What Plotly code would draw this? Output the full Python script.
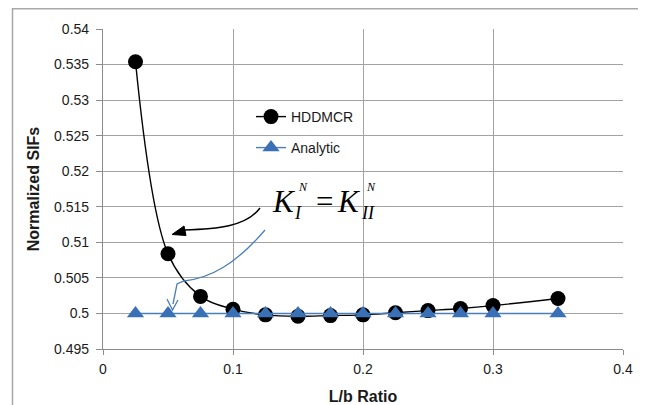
import plotly.graph_objects as go

# ---- data ----
lb_ratio = [0.025, 0.05, 0.075, 0.1, 0.125, 0.15, 0.175, 0.2, 0.225, 0.25, 0.275, 0.3, 0.35]
hddmcr = [0.5354, 0.5084, 0.5024, 0.5006, 0.4998, 0.4996, 0.4997, 0.4998, 0.5001, 0.5004, 0.5007, 0.5011, 0.5021]
analytic = [0.5, 0.5, 0.5, 0.5, 0.5, 0.5, 0.5, 0.5, 0.5, 0.5, 0.5, 0.5, 0.5]
y_tickvals = [0.495, 0.5, 0.505, 0.51, 0.515, 0.52, 0.525, 0.53, 0.535, 0.54]
y_ticktext = ["0.495", "0.5", "0.505", "0.51", "0.515", "0.52", "0.525", "0.53", "0.535", "0.54"]
x_tickvals = [0, 0.1, 0.2, 0.3, 0.4]
x_ticktext = ["0", "0.1", "0.2", "0.3", "0.4"]

# page body margin offsets the figure by 8px; size the figure to fill the window
OFF = 8
W, H = 646 - OFF, 405 - OFF
L, R, T, B = 103 - OFF, 23, 29 - OFF, 56
PW, PH = W - L - R, H - T - B


def P(px, py):
    """window pixel -> paper coords"""
    px -= OFF
    py -= OFF
    return (px - L) / PW, (H - B - py) / PH


def path(cmds):
    out = []
    for c in cmds:
        if isinstance(c, str):
            out.append(c)
        else:
            x, y = P(*c)
            out.append(f"{x:.5f},{y:.5f}")
    return " ".join(out)


FONT = "Liberation Sans, Arial, sans-serif"
SERIF = "Liberation Serif, Times New Roman, serif"
BLUE = "#3a70b5"

fig = go.Figure()
fig.add_trace(go.Scatter(
    x=lb_ratio, y=hddmcr, name="HDDMCR", mode="lines+markers",
    line=dict(color="black", width=1.4, shape="spline", smoothing=1.0),
    marker=dict(symbol="circle", size=15, color="black"),
    legend="legend",
))
fig.add_trace(go.Scatter(
    x=lb_ratio, y=analytic, name="Analytic", mode="lines+markers",
    line=dict(color="#4a7ebb", width=1.4),
    marker=dict(symbol="triangle-up", size=15, color=BLUE),
    legend="legend2",
))

shapes = []
# outer border
x0, y0 = P(12.5, 8.75)
x1, y1 = P(640.5, 412)
shapes.append(dict(type="rect", xref="paper", yref="paper", x0=x0, y0=y1, x1=x1, y1=y0,
                   line=dict(color="#a8a8a8", width=1.5), layer="below"))
# black curved arrow
shapes.append(dict(type="path", xref="paper", yref="paper",
                   path=path(["M", (260, 208), "C", (246, 227), (216, 229), (184, 230)]),
                   line=dict(color="black", width=1.5)))
shapes.append(dict(type="path", xref="paper", yref="paper",
                   path=path(["M", (172, 234.5), "L", (184, 226), "L", (186, 235.5), "Z"]),
                   line=dict(color="black", width=1), fillcolor="black"))
# blue curved arrow
shapes.append(dict(type="path", xref="paper", yref="paper",
                   path=path(["M", (265, 230), "C", (235, 265), (210, 278), (184, 281),
                              "L", (177, 284), "L", (173, 304)]),
                   line=dict(color="#4a7ebb", width=1.3)))
shapes.append(dict(type="path", xref="paper", yref="paper",
                   path=path(["M", (167, 299), "L", (172.5, 310), "L", (178, 300)]),
                   line=dict(color="#4a7ebb", width=1.3)))

annotations = []


def txt(s, px, py, size, italic=True):
    x, y = P(px, py)
    annotations.append(dict(
        text=(f"<i>{s}</i>" if italic else s), x=x, y=y, xref="paper", yref="paper",
        xanchor="center", yanchor="middle", showarrow=False,
        font=dict(family=SERIF, size=size, color="black")))


txt("K", 284, 201, 31)
txt("I", 298, 213, 18)
txt("N", 303, 187, 12)
txt("=", 324, 201, 31, italic=False)
txt("K", 349, 201, 31)
txt("II", 368, 213, 18)
txt("N", 371, 187, 12)

grid = "#a3a3a3"
fig.update_layout(
    width=W, height=H,
    margin=dict(l=L, r=R, t=T, b=B, autoexpand=False),
    paper_bgcolor="white", plot_bgcolor="white",
    font=dict(family=FONT, size=14, color="#1a1a1a"),
    showlegend=True,
    legend=dict(x=P(251, 0)[0], y=P(0, 117)[1], xanchor="left", yanchor="middle",
                bgcolor="rgba(0,0,0,0)", font=dict(size=14, family=FONT)),
    legend2=dict(x=P(251, 0)[0], y=P(0, 148)[1], xanchor="left", yanchor="middle",
                 bgcolor="rgba(0,0,0,0)", font=dict(size=14, family=FONT)),
    shapes=shapes,
    annotations=annotations,
    xaxis=dict(
        range=[0, 0.4], tickvals=x_tickvals, ticktext=x_ticktext, automargin=False,
        showgrid=True, gridcolor=grid, gridwidth=1.2,
        showline=True, linecolor="#8c8c8c", linewidth=1.2,
        ticks="outside", ticklen=5, tickcolor="#8c8c8c",
        zeroline=False, tickfont=dict(size=14), ticklabelstandoff=2,
        title=dict(text="<b>L/b Ratio</b>", font=dict(size=16), standoff=17),
    ),
    yaxis=dict(
        range=[0.495, 0.54], tickvals=y_tickvals, ticktext=y_ticktext, automargin=False,
        showgrid=True, gridcolor=grid, gridwidth=1.2,
        showline=True, linecolor="#8c8c8c", linewidth=1.2,
        ticks="outside", ticklen=6, tickcolor="#8c8c8c",
        zeroline=False, tickfont=dict(size=14), ticklabelstandoff=4,
        title=dict(text="<b>Normalized SIFs</b>", font=dict(size=16), standoff=10),
    ),
)

fig.write_html("out.html")
